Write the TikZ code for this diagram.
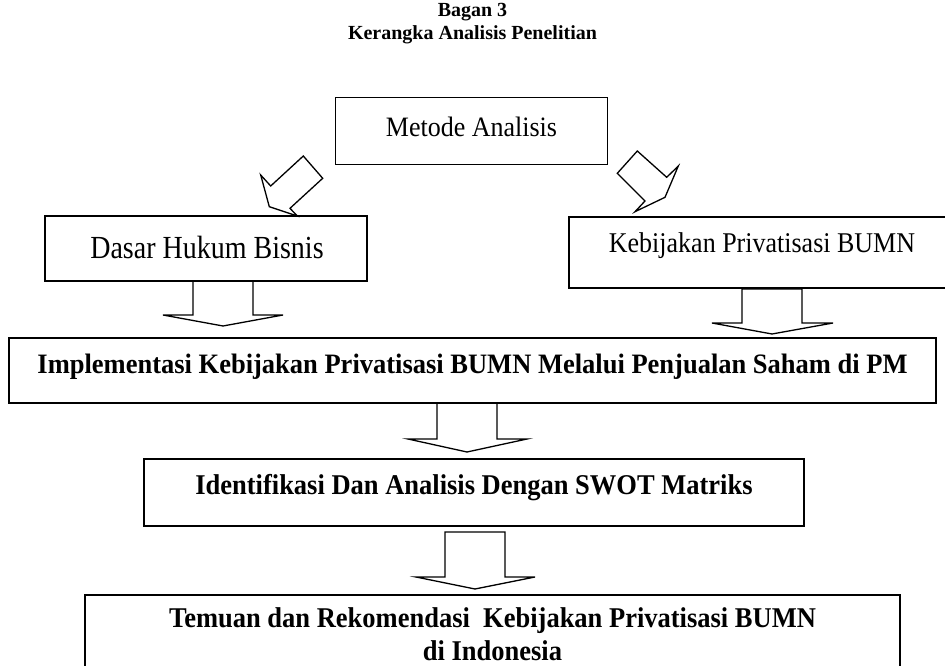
\documentclass[tikz,border=0pt]{standalone}
\usepackage{fontspec}
\setmainfont{Liberation Serif}
\begin{document}
\begin{tikzpicture}[x=1pt,y=-1pt,
  box/.style={draw, line width=1.6pt, inner sep=0pt},
  blockarrow/.style={draw, line width=1.3pt, line join=miter},
  reg/.style={inner sep=0pt, font=\fontsize{26}{30}\selectfont},
  bld/.style={inner sep=0pt, font=\fontsize{26.5}{33}\selectfont\bfseries},
]
\useasboundingbox (0,0) rectangle (945,666);
\clip (0,0) rectangle (945,666);

% title
\node[inner sep=0pt, font=\fontsize{20}{23}\selectfont\bfseries, align=center] (title) at (472.5,24) {Bagan 3\\Kerangka Analisis Penelitian};

% boxes
\node[box, minimum width=272pt, minimum height=66.7pt] (metode) at (471.5,131) {};
\node[reg] (metodet) at (471.5,127) {\scalebox{1}[1.08]{Metode Analisis}};

\node[box, minimum width=322pt, minimum height=65pt] (dasar) at (206,248.5) {};
\node[inner sep=0pt, font=\fontsize{28}{32}\selectfont] (dasart) at (207,247) {\scalebox{1}[1.15]{Dasar Hukum Bisnis}};

\node[box, minimum width=386pt, minimum height=71pt] (keb) at (762,252.5) {};
\node[reg] (kebt) at (762,246) {\scalebox{1}[1.1]{Kebijakan Privatisasi BUMN}};

\node[box, minimum width=927pt, minimum height=65pt] (imp) at (472.5,370.5) {};
\node[bld] (impt) at (472.5,367) {\scalebox{1}[1.06]{Implementasi Kebijakan Privatisasi BUMN Melalui Penjualan Saham di PM}};

\node[box, minimum width=660pt, minimum height=67pt] (ident) at (474,492.5) {};
\node[bld] (identt) at (474,488) {\scalebox{1}[1.08]{Identifikasi Dan Analisis Dengan SWOT Matriks}};

\node[box, minimum width=815pt, minimum height=120pt] (temuan) at (492.5,655) {};
\node[bld, align=center] (temuant) at (492.5,634) {\scalebox{1}[1.08]{Temuan dan Rekomendasi\ \ Kebijakan Privatisasi BUMN}\\\scalebox{1}[1.08]{di Indonesia}};

% diagonal block arrows
\draw[blockarrow] (303.3,156) -- (322.7,178.3) -- (290,208.3) -- (297.3,216) -- (269.3,206.7) -- (260.7,175) -- (270.7,186) -- cycle;
\draw[blockarrow] (637.3,151) -- (666.7,177.3) -- (678.3,166) -- (665,197.3) -- (635,211.7) -- (645,201) -- (617.3,173.3) -- cycle;

% vertical block arrows
\draw[blockarrow] (193,281) -- (193,315) -- (163,315) -- (223,326) -- (283,315) -- (253,315) -- (253,281) -- cycle;
\draw[blockarrow] (742,289) -- (742,323) -- (712,323) -- (772,334) -- (833,323) -- (802,323) -- (802,289) -- cycle;
\draw[blockarrow] (437,403) -- (437,439) -- (408,439) -- (467,452) -- (527,439) -- (497,439) -- (497,403) -- cycle;
\draw[blockarrow] (445,532) -- (445,577) -- (416,577) -- (475,589) -- (535,577) -- (505,577) -- (505,532) -- cycle;
\end{tikzpicture}
\end{document}
